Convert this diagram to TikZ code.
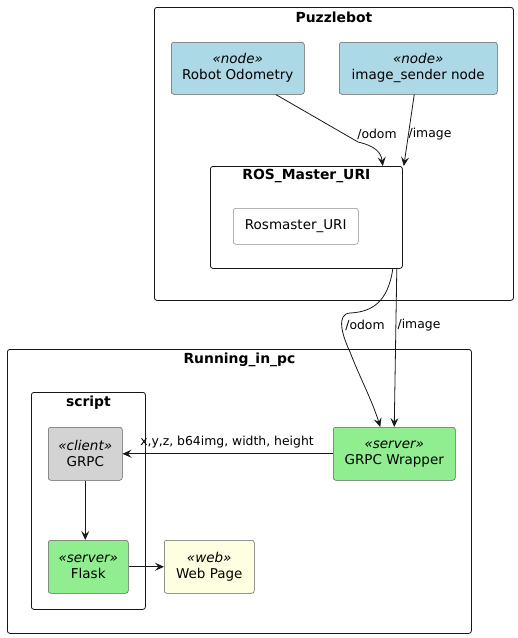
\documentclass[tikz,border=0pt]{standalone}
\usepackage{fontspec}
\setmainfont{DejaVu Sans}
\usetikzlibrary{positioning,arrows.meta,shapes}
\usepackage{xcolor}
\definecolor{nodeblue}{HTML}{ADD8E6}
\definecolor{clientgray}{HTML}{D3D3D3}
\definecolor{servergreen}{HTML}{90EE90}
\definecolor{webyellow}{HTML}{FEFEE0}
\definecolor{umlline}{HTML}{181818}

\begin{document}
\begin{tikzpicture}[x=1pt, y=-1pt,
    every node/.style={font=\fontsize{13.5}{16}\selectfont},
    frame/.style={draw=umlline, line width=0.8pt, rounded corners=2.5pt, anchor=north west, inner sep=0pt},
    title/.style={font=\fontsize{13.9}{16}\selectfont\bfseries, inner sep=0pt},
    comp/.style={draw=umlline!70, line width=0.5pt, rounded corners=2.5pt, anchor=north west, align=center, inner sep=0pt},
    lbl/.style={font=\fontsize{12.4}{14}\selectfont, inner sep=0pt},
    arr/.style={-{Stealth[length=9pt, width=8pt, inset=3.5pt]}, draw=umlline, line width=0.8pt}]
        \useasboundingbox (0,0) rectangle (518,638);

        % Puzzlebot
        \node[frame, minimum width=359pt, minimum height=293pt] (puzzlebot) at (154,7) {};
        \node[title] (puzzlebottitle) at ([yshift=-10pt]puzzlebot.north) {Puzzlebot};

        \node[comp, fill=nodeblue, minimum width=133pt, minimum height=52pt] (odometry) at (171,42) {\textit{«node»}\\Robot Odometry};
        \node[comp, fill=nodeblue, minimum width=158pt, minimum height=52pt] (imgsender) at (339,42) {\textit{«node»}\\image\_sender node};

        \node[frame, minimum width=192pt, minimum height=102pt] (rosmaster) at (210,166) {};
        \node[title] (rosmastertitle) at ([yshift=-10pt]rosmaster.north) {ROS\_Master\_URI};
        \node[comp, draw=umlline!50, fill=white, minimum width=125pt, minimum height=36pt] (rosuri) at (233,208) {Rosmaster\_URI};

        \draw[arr] ([xshift=38pt]odometry.south) -- (358,142) .. controls (375,146) and (381,152) .. ([xshift=-20pt]rosmaster.north east);
        \draw[arr] ([xshift=-4pt]imgsender.south) -- ([xshift=1pt]rosmaster.north east);
        \node[lbl] (odomtop) at (377,134) {/odom};
        \node[lbl] (imagetop) at (430,134) {/image};

        % Running_in_pc
        \node[frame, minimum width=464pt, minimum height=284pt] (pc) at (7,349) {};
        \node[title] (pctitle) at ([yshift=-11pt]pc.north) {Running\_in\_pc};

        \node[frame, minimum width=114pt, minimum height=217pt] (script) at (31,392) {};
        \node[title] (scripttitle) at ([yshift=-11pt]script.north) {script};

        \node[comp, fill=clientgray, minimum width=74pt, minimum height=53pt] (grpc) at (48,427) {\textit{«client»}\\GRPC};
        \node[comp, fill=servergreen, minimum width=80pt, minimum height=53pt] (flask) at (48,540) {\textit{«server»}\\Flask};
        \node[comp, fill=servergreen, minimum width=122pt, minimum height=53pt] (wrapper) at (333,427) {\textit{«server»}\\GRPC Wrapper};
        \node[comp, fill=webyellow, minimum width=90pt, minimum height=53pt] (webpage) at (164,540) {\textit{«web»}\\Web Page};

        \draw[arr] ([xshift=-10pt]rosmaster.south east) .. controls (388,302) and (372,312) .. (350,313) .. controls (336,314) and (342,335) .. (350,352) .. controls (360,378) and (372,400) .. ([xshift=-14pt]wrapper.north);
        \draw[arr] ([xshift=-6pt]rosmaster.south east) -- (wrapper.north);
        \node[lbl] (odomlow) at (365,325) {/odom};
        \node[lbl] (imagelow) at (419,325) {/image};

        \draw[arr] (wrapper.west) -- (grpc.east);
        \node[lbl] (payload) at (227,442) {x,y,z, b64img, width, height};
        \draw[arr] (grpc.south) -- ([xshift=-3pt]flask.north);
        \draw[arr] (flask.east) -- (webpage.west);
    \end{tikzpicture}
\end{document}
